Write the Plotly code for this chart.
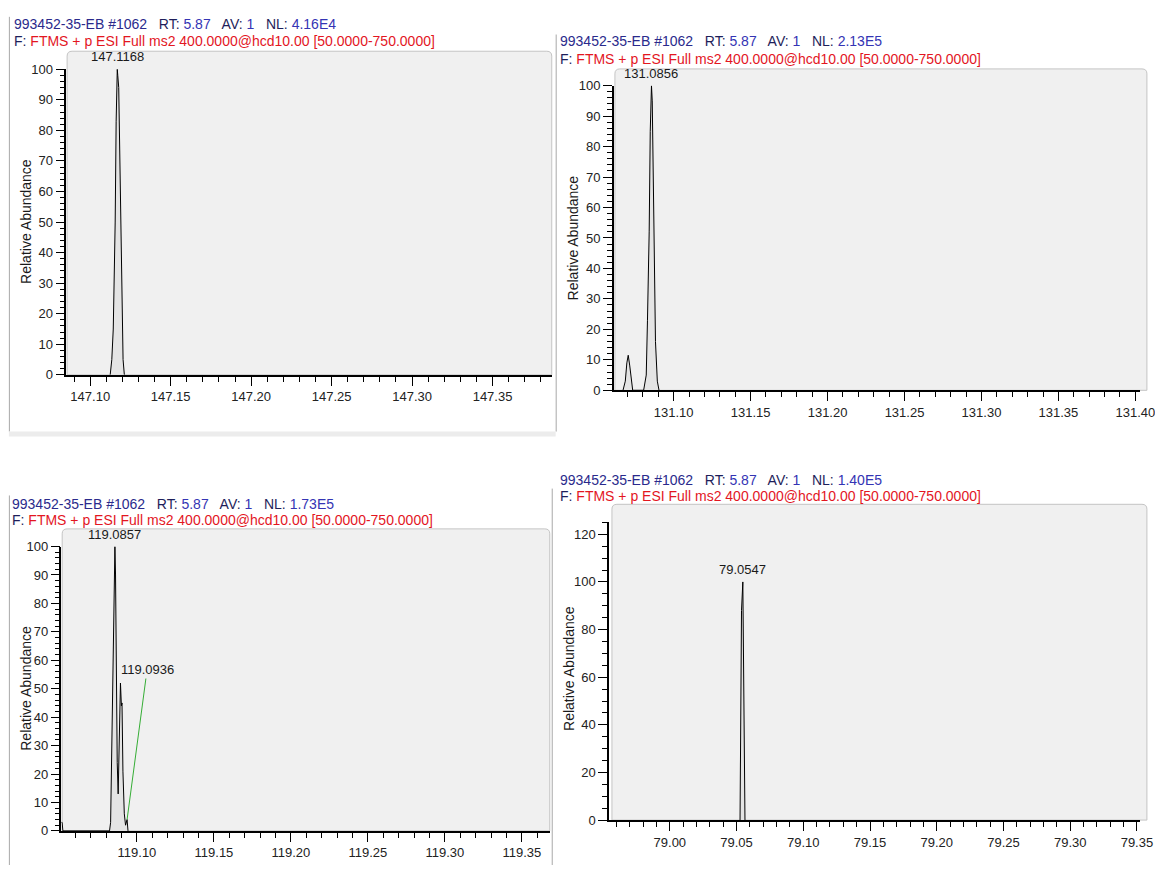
import plotly.graph_objects as go

# ---- spectrum data (m/z, relative abundance) ----
p1_mz = [147.1124, 147.1134, 147.1143, 147.1149, 147.1155, 147.1161, 147.1168,
         147.1171, 147.1177, 147.1183, 147.1189, 147.1198, 147.1204, 147.1212]
p1_ab = [0, 5, 15, 28, 50, 83, 100, 98, 94, 75, 41, 16, 5, 0]

p2_mz = [131.0671, 131.0686, 131.0696, 131.0705, 131.0715, 131.0724, 131.0734,
         131.0805, 131.0822, 131.0830, 131.0841, 131.0848, 131.0856, 131.0861,
         131.0867, 131.0873, 131.0882, 131.0894, 131.0905]
p2_ab = [0, 3, 9, 11.5, 8, 3, 0,
         0, 5, 23, 52, 85, 100, 95, 73, 44, 16, 3, 0]

p3_mz = [119.0508, 119.0514, 119.0519,
         119.0822, 119.0829, 119.0836, 119.0842, 119.0849, 119.0853, 119.0857,
         119.0861, 119.0866, 119.0872, 119.0878, 119.0886, 119.0893, 119.0899,
         119.0903, 119.0909, 119.0918, 119.0926, 119.0936, 119.0942]
p3_ab = [3, 3, 0,
         0, 3, 27, 50, 80, 88, 100,
         90, 41, 24, 13, 30, 52, 44,
         45, 21, 6, 2, 4, 0]

p4_mz = [79.0526, 79.0527, 79.0537, 79.0547, 79.0552, 79.0562, 79.0563]
p4_ab = [0, 9, 88, 100, 61, 9, 0]

# ---- labels ----
peak_labels = [147.1168, 131.0856, 119.0857, 79.0547]
extra_label_mz = 119.0936
extra_label_ab = 4
raw_file = "993452-35-EB"
scan_no = "#1062"
rt_val = "5.87"
av_val = "1"
nl_vals = ["4.16E4", "2.13E5", "1.73E5", "1.40E5"]
filter_text = "FTMS + p ESI Full ms2 400.0000@hcd10.00 [50.0000-750.0000]"
y_title = "Relative Abundance"

W, H = 1155, 873
FONT = "Liberation Sans, Arial, sans-serif"


def fx(px):
    return px / W


def fy(py):
    return 1 - py / H


panels = [
    dict(mz=p1_mz, ab=p1_ab, xr=[147.0852, 147.3868], yr=[0, 100], ydt=10, ymin=2,
         xd=(67.3, 559), yd=(374.3, 63.3), gray=(68, 45, 559, 374.3),
         hdr=(12, 17, 35), yt=(27, 218)),
    dict(mz=p2_mz, ab=p2_ab, xr=[131.0612, 131.4030], yr=[0, 100], ydt=10, ymin=2,
         xd=(622, 1155), yd=(390, 80), gray=(623, 63, 1162, 390),
         hdr=(565, 35, 53), yt=(581, 235)),
    dict(mz=p3_mz, ab=p3_ab, xr=[119.0510, 119.3681], yr=[0, 100], ydt=10, ymin=2,
         xd=(62.3, 557), yd=(838.3, 549), gray=(63, 531, 557, 838.3),
         hdr=(10, 506, 522), yt=(26, 693)),
    dict(mz=p4_mz, ab=p4_ab, xr=[78.9544, 79.3523], yr=[0, 125], ydt=20, ymin=5,
         xd=(617, 1155), yd=(827.3, 524.4), gray=(620, 506, 1162, 827.3),
         hdr=(565, 481, 498), yt=(577, 673)),
]

fig = go.Figure()
shapes = []
annotations = []
layout_axes = {}


def rounded_top(x0, y0, x1, y1, r=5):
    return (f"M {fx(x0)},{fy(y1)} L {fx(x0)},{fy(y0 + r)} "
            f"Q {fx(x0)},{fy(y0)} {fx(x0 + r)},{fy(y0)} "
            f"L {fx(x1 - r)},{fy(y0)} Q {fx(x1)},{fy(y0)} {fx(x1)},{fy(y0 + r)} "
            f"L {fx(x1)},{fy(y1)} Z")


# outer window frames
frame_c = "#a8a8a8"
for (x, y0, y1) in [(9.5, 10, 432), (563.5, 28, 432), (9.5, 497, 873), (559.5, 490, 873)]:
    shapes.append(dict(type="line", xref="paper", yref="paper", x0=fx(x), x1=fx(x),
                       y0=fy(y0), y1=fy(y1), line=dict(color=frame_c, width=1), layer="below"))
shapes.append(dict(type="rect", xref="paper", yref="paper", x0=fx(9), x1=fx(563),
                   y0=fy(437), y1=fy(432), fillcolor="#ececec", line=dict(width=0), layer="below"))

for i, p in enumerate(panels):
    n = "" if i == 0 else str(i + 1)
    xa, ya = "x" + n, "y" + n

    gx0, gy0, gx1, gy1 = p["gray"]
    shapes.append(dict(type="path", xref="paper", yref="paper", path=rounded_top(gx0, gy0, gx1, gy1),
                       fillcolor="#f0f0f0", line=dict(color="#c4c4c4", width=1), layer="below"))

    fig.add_trace(go.Scatter(x=p["mz"], y=p["ab"], mode="lines", xaxis=xa, yaxis=ya,
                             line=dict(color="black", width=1), fill="tozeroy",
                             fillcolor="#e4e4e4", showlegend=False, hoverinfo="skip"))

    tickfont = dict(family=FONT, size=13, color="#222222")
    layout_axes["xaxis" + n] = dict(
        domain=[fx(p["xd"][0]), min(1.0, fx(p["xd"][1]))], range=p["xr"], anchor=ya,
        showgrid=False, zeroline=False, showline=True, linecolor="black", linewidth=2,
        ticks="outside", ticklen=9, tickwidth=1, tickcolor="black",
        tick0=0, dtick=0.05, tickformat=".2f", tickfont=tickfont,
        ticklabeloverflow="allow",
        minor=dict(dtick=0.01, tick0=0, ticks="outside", ticklen=5, tickcolor="black", tickwidth=1),
    )
    layout_axes["yaxis" + n] = dict(
        domain=[fy(p["yd"][0]), fy(p["yd"][1])], range=p["yr"], anchor=xa,
        showgrid=False, zeroline=False, showline=True, linecolor="black", linewidth=1.5,
        ticks="outside", ticklen=9, tickwidth=1, tickcolor="black",
        tick0=0, dtick=p["ydt"], tickfont=tickfont,
        minor=dict(dtick=p["ymin"], tick0=0, ticks="outside", ticklen=5, tickcolor="black", tickwidth=1),
    )

    # header lines
    hx, hy1, hy2 = p["hdr"]
    lab_c, val_c, id_c = "#1e1e5a", "#3434b4", "#2a2a8c"
    nb = "\u00a0"
    line1 = (f'<span style="color:{id_c}">{raw_file} {scan_no}</span>{nb}{nb} '
             f'<span style="color:{lab_c}">RT:</span> <span style="color:{val_c}">{rt_val}</span>{nb}{nb} '
             f'<span style="color:{lab_c}">AV:</span> <span style="color:{val_c}">{av_val}</span>{nb}{nb} '
             f'<span style="color:{lab_c}">NL:</span> <span style="color:{val_c}">{nl_vals[i]}</span>')
    line2 = f'<span style="color:{lab_c}">F:</span> <span style="color:#e3161f">{filter_text}</span>'
    for txt, yy in [(line1, hy1), (line2, hy2)]:
        annotations.append(dict(text=txt, xref="paper", yref="paper", x=fx(hx), y=fy(yy),
                                xanchor="left", yanchor="middle", showarrow=False,
                                font=dict(family=FONT, size=14, color=lab_c)))

    # y axis title
    tx, ty = p["yt"]
    annotations.append(dict(text=y_title, xref="paper", yref="paper", x=fx(tx), y=fy(ty),
                            xanchor="center", yanchor="middle", textangle=-90, showarrow=False,
                            font=dict(family=FONT, size=14, color="#1a1a1a")))

    # base peak label
    annotations.append(dict(text=f"{peak_labels[i]:.4f}", xref=xa, yref=ya, x=peak_labels[i], y=100,
                            xanchor="center", yanchor="bottom", yshift=3, showarrow=False,
                            font=dict(family=FONT, size=13, color="#1a1a1a")))

# labelled minor peak with leader line
annotations.append(dict(text=f"{extra_label_mz:.4f}", xref="x3", yref="y3", x=extra_label_mz, y=extra_label_ab,
                        showarrow=True, arrowhead=0, arrowcolor="#35ad35", arrowwidth=1, standoff=0,
                        ax=20, ay=-150, font=dict(family=FONT, size=13, color="#1a1a1a")))

fig.update_layout(
    width=W, height=H, margin=dict(l=0, r=0, t=0, b=0),
    paper_bgcolor="white", plot_bgcolor="rgba(0,0,0,0)",
    shapes=shapes, annotations=annotations, showlegend=False,
    **layout_axes,
)

fig.write_html("out.html")
